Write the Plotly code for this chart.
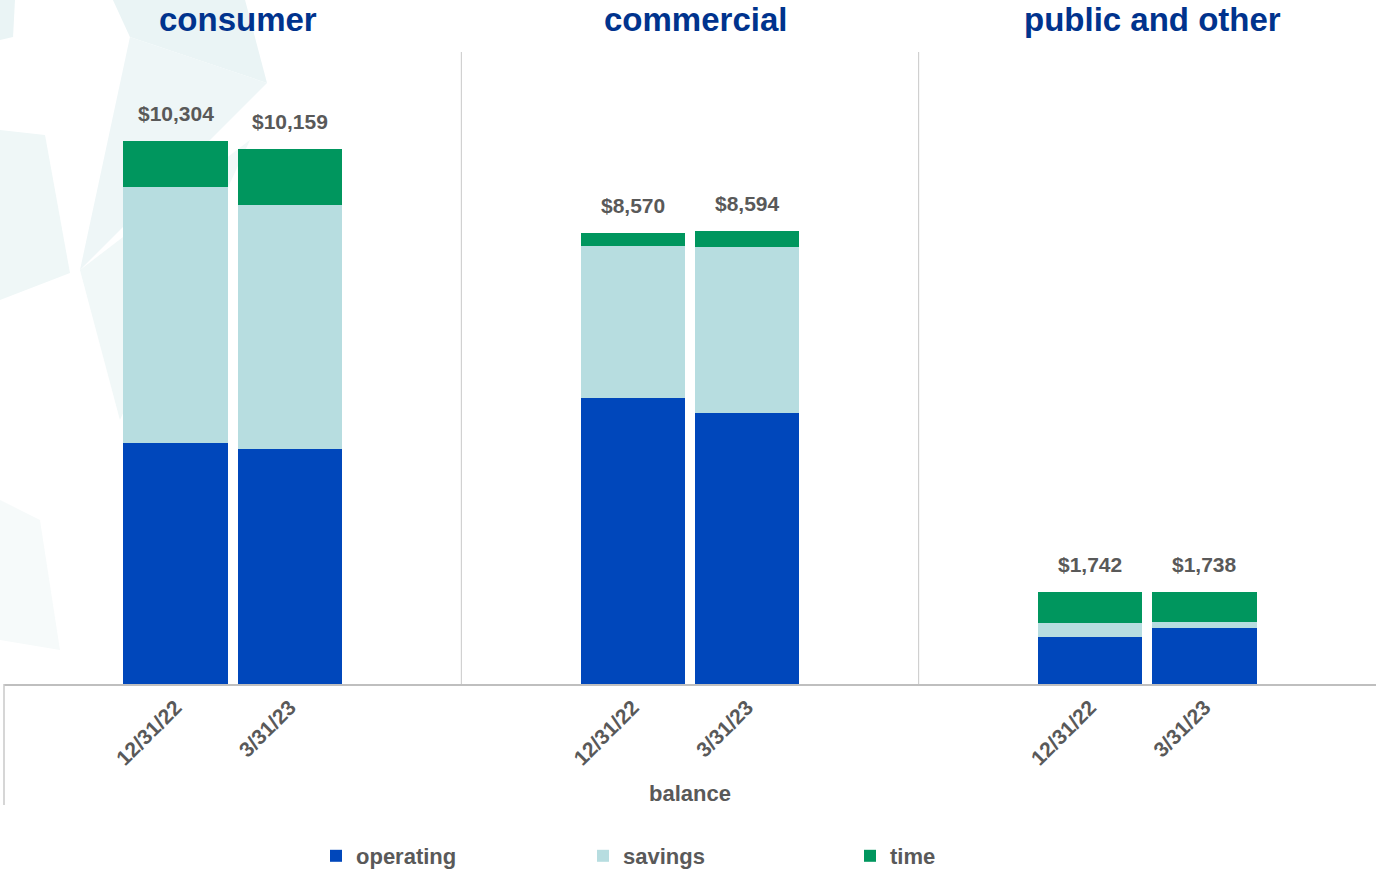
import plotly.graph_objects as go
from plotly.subplots import make_subplots

groups = ["consumer", "commercial", "public and other"]
dates = ["12/31/22", "3/31/23"]

# values per group: [12/31/22, 3/31/23]
operating = {"consumer": [4584, 4455], "commercial": [5436, 5152], "public and other": [900, 1062]}
savings = {"consumer": [4849, 4642], "commercial": [2879, 3144], "public and other": [252, 114]}
time_dep = {"consumer": [871, 1062], "commercial": [255, 298], "public and other": [590, 562]}

series = [("operating", operating, "#0047BB"),
          ("savings", savings, "#B7DDE0"),
          ("time", time_dep, "#00965E")]

W, H = 1376, 871
L, R, T, B = 4, 0, 52, 187
PW, PH = W - L - R, H - T - B

TXT = "#595959"
BLUE_T = "#00338D"
FONT = "Liberation Sans, Arial, sans-serif"

fig = make_subplots(rows=1, cols=3, shared_yaxes=True, horizontal_spacing=0)

for gi, g in enumerate(groups):
    for name, d, col in series:
        fig.add_trace(go.Bar(x=dates, y=d[g], name=f"<b>{name}</b>",
                             marker=dict(color=col, line=dict(width=0)),
                             showlegend=(gi == 0), legendgroup=name, hoverinfo="skip"),
                      row=1, col=gi + 1)
    xr = "x" if gi == 0 else f"x{gi+1}"
    for di, dt in enumerate(dates):
        total = operating[g][di] + savings[g][di] + time_dep[g][di]
        fig.add_annotation(x=dt, y=total, xref=xr, yref="y", text=f"<b>${total:,}</b>",
                           showarrow=False, yanchor="bottom", yshift=14,
                           font=dict(size=21, color=TXT, family=FONT))
    # group title
    fig.add_annotation(x=(gi + 0.5) / 3 + 0.004, y=1 + (T - 20) / PH, xref="paper", yref="paper",
                       text=f"<b>{g}</b>", showarrow=False, xanchor="center", yanchor="middle",
                       font=dict(size=33, color=BLUE_T, family=FONT))

for i in range(1, 4):
    fig.update_xaxes(row=1, col=i, type="category", range=[-1.5, 2.5], showline=True,
                     linecolor="#BFBFBF", linewidth=1.5, ticks="", showgrid=False, zeroline=False,
                     tickmode="array", tickvals=dates, ticktext=[f"<b>{d}</b>" for d in dates],
                     tickangle=-45, tickfont=dict(size=21, color=TXT, family=FONT),
                     ticklabelstandoff=1, automargin=False)
fig.update_yaxes(range=[0, 12000], visible=False, showgrid=False, automargin=False)

# group separators
for xs in [1 / 3, 2 / 3]:
    fig.add_shape(type="line", xref="paper", yref="paper", x0=xs, x1=xs, y0=0, y1=1,
                  line=dict(color="#C8C8C8", width=1))
fig.add_shape(type="line", xref="paper", yref="paper", x0=0, x1=0, y0=-(805 - 684) / PH, y1=0,
              line=dict(color="#C8C8C8", width=1.5))

# faint decorative background
def px(xp, yp):
    return (xp - L) / PW, (H - B - yp) / PH

def poly(pts, color):
    path = "M" + " L".join(f"{px(a, b)[0]:.4f},{px(a, b)[1]:.4f}" for a, b in pts) + " Z"
    fig.add_shape(type="path", path=path, xref="paper", yref="paper", fillcolor=color,
                  line=dict(width=0), layer="below")

poly([(113, 0), (245, 0), (267, 83), (130, 37)], "#EAF4F5")
poly([(0, 0), (15, 0), (13, 37), (0, 40)], "#EAF4F5")
poly([(130, 37), (267, 83), (80, 270)], "#EEF6F7")
poly([(0, 130), (45, 135), (70, 273), (0, 300)], "#EFF7F7")
poly([(80, 270), (250, 140), (120, 420)], "#F1F8F8")
poly([(0, 500), (40, 520), (60, 650), (0, 640)], "#F6FAFA")

fig.add_annotation(x=0.5, y=-(793 - 684) / PH, xref="paper", yref="paper", text="<b>balance</b>",
                   showarrow=False, xanchor="center", yanchor="middle",
                   font=dict(size=22, color=TXT, family=FONT))

fig.update_layout(
    width=W, height=H, margin=dict(l=L, r=R, t=T, b=B, autoexpand=False),
    barmode="stack", bargap=0.09,
    paper_bgcolor="white", plot_bgcolor="rgba(0,0,0,0)",
    font=dict(family=FONT, color=TXT),
    legend=dict(orientation="h", x=(316 - L) / PW, xanchor="left", y=-(856 - 684) / PH, yanchor="middle",
                entrywidth=222, entrywidthmode="pixels", itemwidth=30,
                font=dict(size=22, color=TXT, family=FONT), bgcolor="rgba(0,0,0,0)",
                traceorder="normal"),
)

fig.write_html("out.html", post_script="document.body.style.margin='0';",
               config={"displayModeBar": False})
